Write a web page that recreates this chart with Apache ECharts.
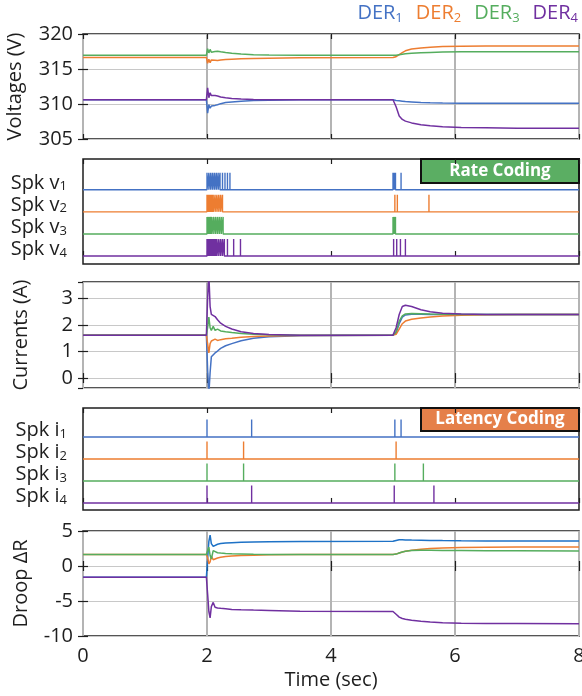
<!DOCTYPE html>
<html>
<head>
<meta charset="utf-8">
<script src="https://cdn.jsdelivr.net/npm/echarts@6/dist/echarts.min.js"></script>
<style>
  html, body { margin: 0; padding: 0; background: #fff; }
  #chart { width: 582px; height: 696px; }
</style>
</head>
<body>
<div id="chart"></div>
<script>
// sample times (sec) shared by the continuous traces
const tSamples = [0, 1.99, 2.01, 2.03, 2.05, 2.07, 2.1, 2.13, 2.17, 2.22, 2.3, 2.4, 2.55, 2.75, 3.0, 3.5,
  5.0, 5.05, 5.1, 5.15, 5.2, 5.3, 5.45, 5.6, 5.8, 6.1, 6.5, 7.0, 8.0];

// voltages (V)
const voltDER1 = [310.6, 310.6, 308.7, 309.9, 309.4, 309.7, 309.6, 309.8, 309.9, 310.05, 310.2, 310.3, 310.4, 310.5, 310.55, 310.6,
  310.6, 310.5, 310.45, 310.4, 310.35, 310.3, 310.22, 310.18, 310.15, 310.12, 310.1, 310.1, 310.1];
const voltDER2 = [316.65, 316.65, 315.8, 316.4, 315.9, 316.3, 316.05, 316.25, 316.2, 316.3, 316.35, 316.4, 316.45, 316.5, 316.55, 316.6,
  316.65, 316.75, 317.05, 317.35, 317.6, 317.85, 318.0, 318.1, 318.2, 318.25, 318.28, 318.3, 318.3];
const voltDER3 = [316.95, 316.95, 317.9, 317.3, 317.8, 317.4, 317.65, 317.5, 317.55, 317.45, 317.35, 317.25, 317.15, 317.05, 317.0, 316.95,
  316.95, 316.98, 317.05, 317.12, 317.18, 317.25, 317.32, 317.37, 317.42, 317.45, 317.47, 317.48, 317.48];
const voltDER4 = [310.6, 310.6, 312.3, 310.9, 311.6, 311.2, 311.4, 311.2, 311.15, 311.0, 310.9, 310.8, 310.7, 310.65, 310.6, 310.6,
  310.6, 309.6, 308.3, 307.8, 307.55, 307.3, 307.05, 306.9, 306.75, 306.65, 306.6, 306.55, 306.55];

// currents (A)
const currDER1 = [1.62, 1.62, 0.3, -0.6, 0.2, 0.8, 0.85, 0.95, 1.02, 1.12, 1.22, 1.3, 1.41, 1.5, 1.56, 1.6,
  1.62, 1.7, 2.05, 2.3, 2.38, 2.41, 2.41, 2.4, 2.4, 2.4, 2.4, 2.4, 2.4];
const currDER2 = [1.62, 1.62, 1.3, 0.95, 1.3, 1.4, 1.35, 1.47, 1.42, 1.45, 1.48, 1.5, 1.54, 1.57, 1.59, 1.61,
  1.62, 1.65, 1.85, 2.05, 2.15, 2.22, 2.27, 2.3, 2.34, 2.37, 2.39, 2.4, 2.4];
const currDER3 = [1.62, 1.62, 1.9, 2.3, 1.9, 1.8, 1.95, 1.8, 1.85, 1.78, 1.75, 1.72, 1.68, 1.65, 1.63, 1.62,
  1.62, 1.75, 2.15, 2.35, 2.42, 2.44, 2.43, 2.42, 2.41, 2.4, 2.4, 2.4, 2.4];
const currDER4 = [1.62, 1.62, 3.0, 3.9, 2.7, 2.4, 2.45, 2.32, 2.2, 2.07, 1.95, 1.85, 1.75, 1.68, 1.64, 1.62,
  1.62, 1.9, 2.4, 2.7, 2.75, 2.7, 2.58, 2.5, 2.45, 2.42, 2.4, 2.4, 2.4];

// droop correction
const droopDER1 = [-1.6, -1.6, 1.0, 3.5, 4.4, 3.2, 2.8, 3.0, 3.1, 3.2, 3.28, 3.33, 3.38, 3.42, 3.45, 3.5,
  3.53, 3.65, 3.75, 3.75, 3.73, 3.7, 3.68, 3.66, 3.63, 3.6, 3.58, 3.57, 3.57];
const droopDER2 = [1.65, 1.65, 1.2, 0.3, 0.6, 1.4, 0.9, 1.0, 1.15, 1.25, 1.35, 1.42, 1.5, 1.55, 1.6, 1.63,
  1.65, 1.7, 1.85, 2.0, 2.1, 2.25, 2.4, 2.5, 2.58, 2.65, 2.68, 2.7, 2.7];
const droopDER3 = [1.65, 1.65, 2.2, 2.7, 1.5, 1.0, 2.2, 2.0, 1.9, 1.85, 1.8, 1.75, 1.72, 1.68, 1.66, 1.65,
  1.65, 1.7, 1.85, 2.0, 2.1, 2.2, 2.25, 2.25, 2.22, 2.2, 2.18, 2.17, 2.16];
const droopDER4 = [-1.6, -1.6, -4.0, -6.5, -7.4, -5.8, -5.2, -5.9, -6.0, -6.05, -6.1, -6.2, -6.25, -6.3, -6.35, -6.45,
  -6.5, -6.9, -7.3, -7.5, -7.6, -7.75, -7.9, -8.0, -8.1, -8.17, -8.2, -8.22, -8.24];

// spike times (sec)
const spkV1 = [2.00, 2.03, 2.06, 2.09, 2.12, 2.15, 2.18, 2.21, 2.25, 2.29, 2.33, 2.37, 5.00, 5.02, 5.04, 5.13];
const spkV2 = [2.00, 2.02, 2.04, 2.06, 2.08, 2.10, 2.13, 2.16, 2.19, 2.22, 2.25, 5.03, 5.07, 5.58];
const spkV3 = [2.00, 2.02, 2.04, 2.06, 2.08, 2.11, 2.14, 2.17, 2.20, 2.23, 2.26, 5.00, 5.02, 5.04];
const spkV4 = [2.00, 2.02, 2.04, 2.06, 2.08, 2.10, 2.12, 2.14, 2.16, 2.19, 2.22, 2.25, 2.28, 2.33, 2.43, 2.54, 5.01, 5.06, 5.12, 5.20];
const spkI1 = [2.00, 2.72, 5.03, 5.13];
const spkI2 = [2.00, 2.59, 5.05];
const spkI3 = [2.00, 2.59, 5.03, 5.49];
const spkI4 = [2.00, 2.72, 5.02, 5.66];

const derNames = ['DER1', 'DER2', 'DER3', 'DER4'];
const spkRows = ['1', '2', '3', '4'];

const colors = ['#4472C4', '#ED7D31', '#55AD5E', '#7030A0'];
const droopColors = ['#1E72C6', '#ED7D31', '#55AD5E', '#7030A0'];
const FONT = "'Open Sans', 'Noto Sans', sans-serif";
const INK = '#1e1e1e';

const chart = echarts.init(document.getElementById('chart'));

const tops = [34, 159, 282, 408, 531];
const heights = [105, 105, 106, 102, 105];
const grid = tops.map((t, i) => ({
  left: 83, right: 3, top: t, height: heights[i],
  show: true, borderColor: INK, borderWidth: 1.5,
  outerBoundsMode: 'none'
}));

const xAxis = [];
const yAxis = [];
const series = [];

const tickStyle = { show: true, inside: true, length: 5, lineStyle: { color: INK, width: 1.2 } };

// x axes: bottom (with labels only on the last panel) and top (ticks only)
for (let i = 0; i < 5; i++) {
  xAxis.push({
    gridIndex: i, type: 'value', min: 0, max: 8, interval: 2,
    axisLine: { show: false },
    axisTick: tickStyle,
    axisLabel: { show: i === 4, fontSize: 20, color: INK, fontFamily: FONT, margin: 10, showMinLabel: true, showMaxLabel: true },
    splitLine: { show: i % 2 === 0, lineStyle: { color: '#b4b4b4', width: 2 } },
    name: i === 4 ? 'Time (sec)' : '',
    nameLocation: 'middle', nameGap: 34,
    nameTextStyle: { fontSize: 20, color: INK, fontFamily: FONT }
  });
  xAxis.push({
    gridIndex: i, type: 'value', min: 0, max: 8, interval: 2, position: 'top',
    axisLine: { show: false }, axisTick: tickStyle,
    axisLabel: { show: false }, splitLine: { show: false }
  });
}

const numLabel = { fontSize: 20, color: INK, fontFamily: FONT, margin: 10 };
const nameStyle = { fontSize: 20, color: INK, fontFamily: FONT };
const hSplit = { show: true, lineStyle: { color: '#c8c8c8', width: 1 } };

function valuePanel(gi, cfg) {
  yAxis.push(Object.assign({
    gridIndex: gi, type: 'value',
    axisLine: { show: false }, axisTick: tickStyle,
    axisLabel: Object.assign({ showMinLabel: cfg.showEnds, showMaxLabel: cfg.showEnds }, numLabel),
    splitLine: hSplit,
    nameLocation: 'middle', nameTextStyle: nameStyle
  }, cfg.axis));
  const left = yAxis.length - 1;
  yAxis.push({
    gridIndex: gi, type: 'value', position: 'right',
    min: cfg.axis.min, max: cfg.axis.max, interval: cfg.axis.interval, splitNumber: cfg.axis.splitNumber,
    axisLine: { show: false }, axisTick: tickStyle,
    axisLabel: { show: false }, splitLine: { show: false }
  });
  return left;
}

// compact line height so neighbouring row labels do not count as overlapping
const subRich = {
  m: { fontSize: 20, lineHeight: 20, fontFamily: FONT, color: INK },
  s: { fontSize: 13, lineHeight: 2, verticalAlign: 'bottom', fontFamily: FONT, color: INK }
};

// row k (top to bottom) has its baseline at value 3 - k
function spikePanel(gi, letter, min, max) {
  yAxis.push({
    gridIndex: gi, type: 'value', min: min, max: max,
    axisLine: { show: false }, axisTick: { show: false }, splitLine: { show: false },
    axisLabel: {
      customValues: [3.3, 2.3, 1.3, 0.3],
      margin: 16,
      showMinLabel: true, showMaxLabel: true,
      formatter: v => '{m|Spk ' + letter + '}{s|' + spkRows[3 - Math.round(v - 0.3)] + '}',
      rich: subRich
    }
  });
  return yAxis.length - 1;
}

function trace(name, xi, yi, ys, color) {
  series.push({
    type: 'line', name: name, xAxisIndex: xi, yAxisIndex: yi,
    data: tSamples.map((t, k) => [t, ys[k]]),
    symbol: 'none', showSymbol: false, clip: true,
    lineStyle: { width: 1.5, color: color }, itemStyle: { color: color }
  });
}

function spikeTrain(times, base, h) {
  const d = [[0, base]];
  times.forEach(t => { d.push([t, base], [t, base + h], [t, base]); });
  d.push([8, base]);
  return d;
}

function spikes(name, xi, yi, times, base, h, color) {
  series.push({
    type: 'line', name: name, xAxisIndex: xi, yAxisIndex: yi,
    data: spikeTrain(times, base, h),
    symbol: 'none', showSymbol: false, clip: true,
    lineStyle: { width: 1.4, color: color }, itemStyle: { color: color }
  });
}

// panel 1: voltages
const yV = valuePanel(0, { showEnds: true, axis: { min: 305, max: 320, interval: 5, name: 'Voltages (V)', nameGap: 58 } });
[voltDER1, voltDER2, voltDER3, voltDER4].forEach((ys, k) => trace(derNames[k], 0, yV, ys, colors[k]));

// panel 2: rate-coded spikes
const ySv = spikePanel(1, 'v', -0.36, 4.39);
[spkV1, spkV2, spkV3, spkV4].forEach((ts, k) => spikes('spkv' + k, 2, ySv, ts, 3 - k, 0.77, colors[k]));

// panel 3: currents
const yI = valuePanel(2, { showEnds: false, axis: { min: -0.375, max: 3.625, splitNumber: 4, name: 'Currents (A)', nameGap: 52 } });
[currDER1, currDER2, currDER3, currDER4].forEach((ys, k) => trace(derNames[k], 4, yI, ys, colors[k]));

// panel 4: latency-coded spikes
const ySi = spikePanel(3, 'i', -0.32, 4.32);
[spkI1, spkI2, spkI3, spkI4].forEach((ts, k) => spikes('spki' + k, 6, ySi, ts, 3 - k, 0.8, colors[k]));

// panel 5: droop
const yD = valuePanel(4, { showEnds: true, axis: { min: -10, max: 5, interval: 5, name: 'Droop ΔR', nameGap: 52 } });
[droopDER1, droopDER2, droopDER3, droopDER4].forEach((ys, k) => trace(derNames[k], 8, yD, ys, droopColors[k]));

function tagBox(y, h, fill, label) {
  return {
    type: 'group', z: 100,
    children: [
      { type: 'rect', shape: { x: 421, y: y, width: 158, height: h }, style: { fill: fill, stroke: '#111', lineWidth: 2 } },
      { type: 'text', x: 500, y: y + h / 2, style: { text: label, fill: '#fff', font: "bold 17px 'Open Sans', 'Noto Sans', sans-serif", align: 'center', verticalAlign: 'middle' } }
    ]
  };
}

chart.setOption({
  animation: false,
  backgroundColor: '#fff',
  textStyle: { fontFamily: FONT },
  legend: {
    top: 3, right: 4, padding: 0, icon: 'none', itemWidth: 0, itemHeight: 0, itemGap: 8,
    selectedMode: false,
    data: derNames.map((n, k) => ({ name: n, textStyle: { color: colors[k] } })),
    formatter: n => '{m|DER}{s|' + n.slice(3) + '}',
    textStyle: {
      fontSize: 20, fontFamily: FONT,
      rich: {
        m: { fontSize: 20, lineHeight: 24, fontFamily: FONT },
        s: { fontSize: 13, lineHeight: 4, verticalAlign: 'bottom', fontFamily: FONT }
      }
    }
  },
  grid: grid,
  xAxis: xAxis,
  yAxis: yAxis,
  series: series,
  graphic: [
    tagBox(159, 24, '#5BAE63', 'Rate Coding'),
    tagBox(408, 23, '#E5804A', 'Latency Coding')
  ]
});
</script>
</body>
</html>
